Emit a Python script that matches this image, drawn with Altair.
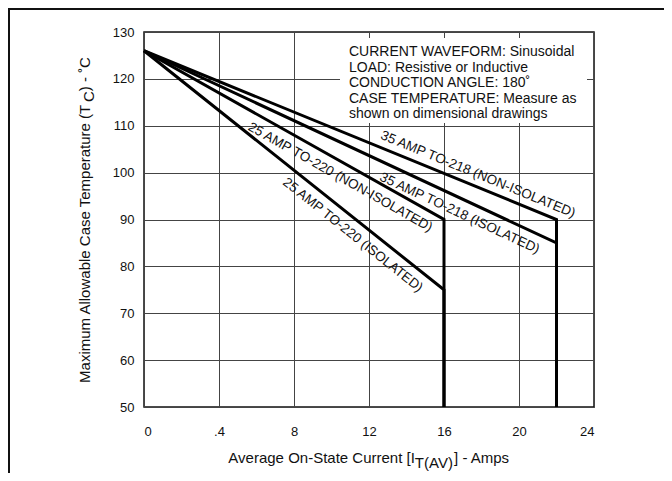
import math
import altair as alt
import pandas as pd

# ---------------- data ----------------
series_names = [
    "25 AMP TO-220 (ISOLATED)",
    "25 AMP TO-220 (NON-ISOLATED)",
    "35 AMP TO-218 (ISOLATED)",
    "35 AMP TO-218 (NON-ISOLATED)",
]
start_current = [0, 0, 0, 0]
start_temp = [126, 126, 126, 126]
end_current = [16, 16, 22, 22]
end_temp = [75, 90, 85, 90]
floor_temp = [50, 50, 50, 50]

# where each curve label sits along its curve (current value) and on which side
label_current = [11.6, 10.83, 17.15, 17.57]
label_side = ["below", "below", "below", "above"]

x_tick_values = [0, 4, 8, 12, 16, 20, 24]
x_tick_labels = ["0", ".4", "8", "12", "16", "20", "24"]
y_tick_values = [50, 60, 70, 80, 90, 100, 110, 120, 130]

note_lines = [
    "CURRENT WAVEFORM: Sinusoidal",
    "LOAD: Resistive or Inductive",
    "CONDUCTION ANGLE: 180\u02da",
    "CASE TEMPERATURE: Measure as",
    "shown on dimensional drawings",
]

x_title_parts = ["Average On-State Current [I", "T(AV)", "] - Amps"]
y_title_parts = ["Maximum Allowable Case Temperature (T", "C", ") - \u02daC"]

# ---------------- layout ----------------
W, H = 450, 375
X_DOM = [0, 24]
Y_DOM = [50, 130]
FONT = "Liberation Sans"
ppx = W / (X_DOM[1] - X_DOM[0])
ppy = H / (Y_DOM[1] - Y_DOM[0])

# ---------------- tables ----------------
rows = []
for i, name in enumerate(series_names):
    pts = [(start_current[i], start_temp[i]),
           (end_current[i], end_temp[i]),
           (end_current[i], floor_temp[i])]
    for k, (cx, ty) in enumerate(pts):
        rows.append({"series": name, "order": k, "current": cx, "temp": ty})
lines_df = pd.DataFrame(rows)

lab_rows = []
for i, name in enumerate(series_names):
    dxd = end_current[i] - start_current[i]
    dyd = start_temp[i] - end_temp[i]
    slope = dyd / dxd
    cx = label_current[i]
    ty = start_temp[i] - slope * (cx - start_current[i])
    ang = math.degrees(math.atan((dyd * ppy) / (dxd * ppx)))
    lab_rows.append({"series": name, "current": cx, "temp": ty,
                     "angle": ang, "side": label_side[i]})
labels_df = pd.DataFrame(lab_rows)

label_expr = ""
for v, t in zip(x_tick_values, x_tick_labels):
    label_expr += f"datum.value == {v} ? '{t}' : "
label_expr += "datum.label"

xscale = alt.Scale(domain=X_DOM, nice=False, zero=False)
yscale = alt.Scale(domain=Y_DOM, nice=False, zero=False)

x_axis = alt.Axis(values=x_tick_values, labelExpr=label_expr, title=None,
                  grid=True, gridColor="#444", gridWidth=1, domain=False,
                  ticks=False, tickSize=0, labelPadding=18, labelFont=FONT,
                  labelFontSize=13, labelColor="#111")
y_axis = alt.Axis(values=y_tick_values, title=None, grid=True,
                  gridColor="#444", gridWidth=1, domain=False, ticks=False,
                  tickSize=0, labelPadding=10, labelFont=FONT,
                  labelFontSize=13, labelColor="#111")

curves = alt.Chart(lines_df).mark_line(color="black", strokeWidth=3,
                                       strokeJoin="miter").encode(
    x=alt.X("current:Q", scale=xscale, axis=x_axis),
    y=alt.Y("temp:Q", scale=yscale, axis=y_axis),
    detail="series:N",
    order="order:O",
)

base_lab = alt.Chart(labels_df)
lab_below = base_lab.transform_filter("datum.side == 'below'").mark_text(
    font=FONT, fontSize=13.5, color="#111", align="center",
    baseline="middle", dy=14).encode(
    x=alt.X("current:Q", scale=xscale),
    y=alt.Y("temp:Q", scale=yscale),
    text="series:N",
    angle=alt.Angle("angle:Q", scale=None),
)
lab_above = base_lab.transform_filter("datum.side == 'above'").mark_text(
    font=FONT, fontSize=13.5, color="#111", align="center",
    baseline="middle", dy=-12).encode(
    x=alt.X("current:Q", scale=xscale),
    y=alt.Y("temp:Q", scale=yscale),
    text="series:N",
    angle=alt.Angle("angle:Q", scale=None),
)

one = pd.DataFrame({"k": [0]})

note_box = alt.Chart(one).mark_rect(fill="white", stroke=None).encode(
    x=alt.value(196), x2=alt.value(443), y=alt.value(6), y2=alt.value(91))
note_text = alt.Chart(one).mark_text(
    font=FONT, fontSize=14, lineHeight=15.5, align="left", baseline="top",
    color="#111").encode(
    x=alt.value(205), y=alt.value(13), text=alt.value(note_lines))

# x title with subscript
xt_y = 426
xt_p1_end = 270.85
xt_p2_end = 310.05
xt1 = alt.Chart(one).mark_text(font=FONT, fontSize=15, align="right",
                               baseline="middle", color="#111").encode(
    x=alt.value(xt_p1_end), y=alt.value(xt_y), text=alt.value(x_title_parts[0]))
xt2 = alt.Chart(one).mark_text(font=FONT, fontSize=15, align="left",
                               baseline="middle", dy=5, color="#111").encode(
    x=alt.value(xt_p1_end), y=alt.value(xt_y), text=alt.value(x_title_parts[1]))
xt3 = alt.Chart(one).mark_text(font=FONT, fontSize=15, align="left",
                               baseline="middle", color="#111").encode(
    x=alt.value(xt_p2_end), y=alt.value(xt_y), text=alt.value(x_title_parts[2]))

# y title with subscript (rotated)
yt_x = -59
yt1 = alt.Chart(one).mark_text(font=FONT, fontSize=15, align="left",
                               baseline="middle", angle=270, color="#111").encode(
    x=alt.value(yt_x), y=alt.value(350.9), text=alt.value(y_title_parts[0]))
yt2 = alt.Chart(one).mark_text(font=FONT, fontSize=15, align="left",
                               baseline="middle", angle=270, dy=4, color="#111").encode(
    x=alt.value(yt_x), y=alt.value(70.0), text=alt.value(y_title_parts[1]))
yt3 = alt.Chart(one).mark_text(font=FONT, fontSize=15, align="left",
                               baseline="middle", angle=270, color="#111").encode(
    x=alt.value(yt_x), y=alt.value(59.2), text=alt.value(y_title_parts[2]))

# outer frame (top and left edges of the scanned page)
frame_top = alt.Chart(one).mark_rule(color="#111", strokeWidth=2).encode(
    x=alt.value(-136), x2=alt.value(520), y=alt.value(-23))
frame_left = alt.Chart(one).mark_rule(color="#111", strokeWidth=2).encode(
    x=alt.value(-135), y=alt.value(-24), y2=alt.value(441))

chart = alt.layer(
    curves, note_box, note_text, lab_below, lab_above,
    xt1, xt2, xt3, yt1, yt2, yt3, frame_top, frame_left,
).properties(
    width=W, height=H,
    autosize=alt.AutoSizeParams(type="none"),
    padding={"left": 136, "top": 24, "right": 70, "bottom": 66},
    background="white",
).configure_view(stroke="#111", strokeWidth=1.5)

chart.save("out.html", embed_options={"renderer": "svg", "actions": False})
